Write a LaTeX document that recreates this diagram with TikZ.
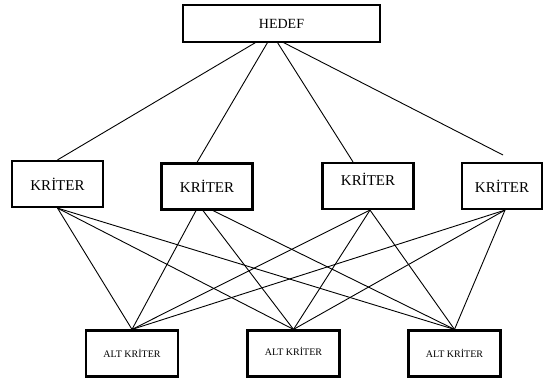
\documentclass[tikz,border=0pt]{standalone}
\usepackage{fontspec}
\setmainfont{Liberation Serif}
\usepackage{tikz}
\usetikzlibrary{calc}

\tikzset{
	hedefbox/.style={draw,line width=1.1pt,minimum width=197pt,minimum height=37pt,inner sep=0pt,font=\fontsize{14}{16}\selectfont},
	kriterbox/.style={draw,line width=2.2pt,minimum width=91pt,minimum height=46pt,inner sep=0pt,font=\fontsize{15}{17}\selectfont},
	altbox/.style={draw,line width=2.2pt,minimum width=92pt,minimum height=46pt,inner sep=0pt,font=\fontsize{10}{12}\selectfont},
	link/.style={line width=0.9pt}
}

\begin{document}
\begin{tikzpicture}[x=1pt,y=-1pt]
	\useasboundingbox (0,0) rectangle (544,380);
	\node[hedefbox] (hedef) at (281.5,23.5) {HEDEF};
	\node[kriterbox] (k1) at (57.5,184) {KRİTER};
	\node[kriterbox] (k2) at (207,186.5) {KRİTER};
	\node[kriterbox,text depth=14pt] (k3) at (368,186) {KRİTER};
	\node[kriterbox,minimum width=80pt] (k4) at (502,186) {KRİTER};
	\node[altbox] (a1) at (132,353.5) {ALT KRİTER};
	\node[altbox,text depth=5pt] (a2) at (293.5,353.5) {ALT KRİTER};
	\node[altbox] (a3) at (454.5,353.5) {ALT KRİTER};
	\coordinate (k4top) at (503,155);
%    hedef -> kriter
	\draw[link] ([xshift=-26pt]hedef.south) -- (k1.north);
	\draw[link] ([xshift=-14pt]hedef.south) -- ([xshift=-10pt]k2.north);
	\draw[link] ([xshift=-4pt]hedef.south) -- ([xshift=-15pt]k3.north);
	\draw[link] ([xshift=2pt]hedef.south) -- (k4top);
%    kriter -> alt kriter
	\foreach \a in {a1,a2,a3}
		\draw[link] (k1.south) -- (\a.north);
	\draw[link] ([xshift=-11pt]k2.south) -- (a1.north);
	\draw[link] ([xshift=-4pt]k2.south) -- (a2.north);
	\draw[link] ([xshift=6pt]k2.south) -- (a3.north);
	\foreach \a in {a1,a2,a3}
		\draw[link] ([xshift=2pt]k3.south) -- (\a.north);
	\foreach \a in {a1,a2,a3}
		\draw[link] ([xshift=3pt]k4.south) -- (\a.north);
\end{tikzpicture}
\end{document}
